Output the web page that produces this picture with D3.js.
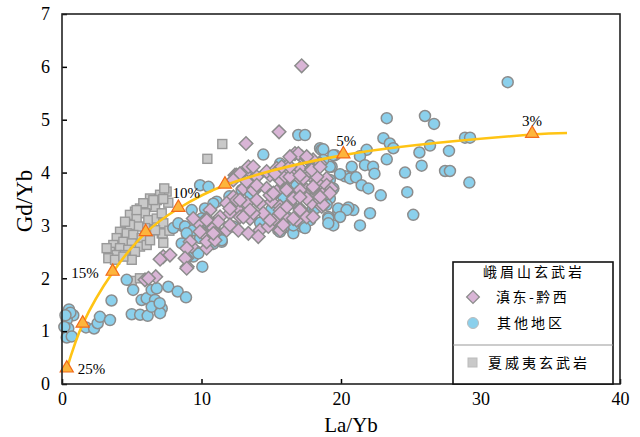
<!DOCTYPE html>
<html>
<head>
<meta charset="utf-8">
<script src="https://cdn.jsdelivr.net/npm/d3@7"></script>
<style>
  body { margin: 0; background: #fff; }
  #viz text { font-family: "Liberation Serif", "Times New Roman", serif; }
  #viz .cjk { font-family: "Noto Sans CJK SC", sans-serif; }
</style>
</head>
<body>
<div id="viz"></div>
<script>
// 夏威夷玄武岩 (La/Yb, Gd/Yb)
var hawaii = [
  [7.5,3.64],[7.03,3.58],[6.79,3.48],[6.31,3.51],[6.67,3.35],[6.07,3.39],[5.59,3.32],[5.95,3.23],[5.23,3.26],
  [4.87,3.2],[5.35,3.13],[6.19,3.1],[6.79,3.13],[7.15,3.23],[7.26,3.04],[7.15,2.85],[6.55,2.91],[5.95,2.95],
  [5.47,2.98],[4.87,3.01],[4.52,3.07],[4.16,2.88],[4.64,2.85],[5.11,2.82],[5.71,2.76],[3.92,2.76],[4.4,2.69],
  [5.0,2.66],[5.59,2.6],[3.68,2.63],[4.16,2.57],[4.75,2.54],[3.44,2.5],[3.92,2.44],[3.32,2.38],[3.2,2.57],
  [4.5,2.44],[5.23,2.5],[6.07,2.63],[6.31,2.72],[7.33,3.7],[7.62,3.43],[7.26,3.5],[6.55,3.48],[5.83,3.42],
  [5.35,3.29],[10.42,4.26],[11.49,4.54],[5.0,1.95],[5.59,2.0],[7.26,2.67],[7.22,2.85],[6.67,2.91],[3.8,2.35],
  [5.0,2.35],[4.4,2.41],[7.7,2.9]
];

// 峨眉山玄武岩 - 其他地区
var other = [
  [0.5,1.41],[0.81,1.30],[0.34,1.21],[0.45,1.05],[0.34,0.88],[0.7,0.9],[0.17,1.08],[0.6,1.35],[0.25,1.3],
  [1.72,1.07],[2.3,1.05],[2.56,1.15],[2.72,1.27],[3.44,1.21],[3.55,1.58],[4.64,1.97],[5.1,1.78],[5.0,1.32],
  [5.6,1.31],[6.14,1.29],[5.71,1.59],[6.07,1.62],[6.43,1.78],[6.79,1.81],[6.67,1.59],[6.43,1.46],[7.15,1.43],
  [7.03,1.34],[7.0,1.53],[7.62,1.84],[8.29,1.75],[8.89,1.64],[10.06,2.22],
  [7.98,2.95],[8.7,2.98],[9.0,2.82],[8.82,2.63],[8.58,2.66],[9.66,2.5],[9.41,2.41],[9.9,2.76],[10.85,2.65],
  [11.45,2.69],[10.37,2.91],[12.28,2.98],[15.5,2.91],[16.58,2.85],[17.18,2.98],
  [14.43,4.34],[16.94,4.71],[17.42,4.71],[18.5,4.46],[9.9,3.76],[10.5,3.73],[11.09,3.45],
  [31.95,5.71],[23.28,5.03],[26.02,5.07],[26.67,4.92],[23.04,4.65],[23.5,4.55],[23.75,4.46],[21.84,4.43],
  [21.36,4.31],[19.57,4.33],[18.6,4.43],[19.33,4.11],[20.77,4.11],[21.72,4.14],[22.3,4.11],[22.4,3.98],
  [23.28,4.25],[24.59,4.0],[25.78,4.13],[25.62,4.38],[26.38,4.51],[27.74,4.41],[27.46,4.03],[27.81,4.03],
  [28.89,4.66],[29.25,4.66],[29.2,3.81],[24.75,3.63],[22.85,3.57],[25.18,3.2],[20.29,3.93],[20.65,3.89],
  [21.08,3.91],[19.93,3.97],[21.48,3.76],[21.96,3.7],[22.08,3.23],[20.88,3.29],[20.53,3.34],[19.8,3.26],
  [19.09,3.16],[18.73,4.44],[19.45,4.33],
  [19.2,4.11],[18.73,4.24],[18.0,3.98],[19.2,3.86],[19.45,3.7],[19.2,3.51],[18.97,3.39],[18.0,3.32],
  [19.8,3.32],[20.4,3.29],[19.93,3.16],[19.09,3.13],[19.45,3.0],[17.78,3.1],[17.06,3.04],[16.58,3.0],
  [15.86,2.95],[21.36,3.0],[16.1,3.16],[15.63,4.17],
  [12.88,3.67],[10.25,3.32],[9.3,3.29],[8.34,3.04],[8.82,2.98],[10.0,3.13],[9.9,3.0],[9.41,2.91],
  [16.1,3.95],[15.86,3.54],
  [10.85,3.41],[15.63,2.88],[17.42,2.95],[19.09,3.04],[9.77,2.47],[8.94,2.85],[11.2,2.82],[11.45,2.72],
  [18.14,3.32],[13.5,3.6],[15.0,3.3],[12.0,3.55],[16.8,3.75],[14.2,3.05]
];

// 峨眉山玄武岩 - 滇东-黔西
var dianDong = [
  [17.18,6.02],[15.56,4.77],[13.19,4.55],[16.7,4.36],[17.18,4.3],
  [10.3,3.11],[10.13,2.85],[9.3,2.6],[8.94,2.38],[8.98,2.22],[7.26,2.41],[7.03,2.36],[7.74,2.44],
  [5.95,1.97],[6.72,2.03],[6.2,2.0],[10.37,2.57],[9.77,3.04],
  [12.4,3.95],[13.12,3.98],[13.96,3.92],[14.91,3.95],[15.63,3.86],[16.46,3.98],[17.06,3.89],[17.78,3.95],
  [18.5,3.8],[18.97,3.89],
  [13.0,3.7],[13.84,3.67],[14.67,3.7],[15.39,3.64],[16.1,3.7],[16.82,3.6],[17.54,3.67],[18.26,3.58],
  [18.97,3.67],[12.28,3.54],
  [11.8,3.42],[13.24,3.42],[14.19,3.42],[15.03,3.45],[15.63,3.36],[16.34,3.42],[17.06,3.32],[17.9,3.42],
  [18.62,3.36],[12.52,3.32],[10.61,3.29],
  [10.37,3.13],[11.33,3.16],[12.04,3.23],[12.76,3.16],[13.48,3.13],[14.43,3.23],[15.15,3.1],[15.99,3.16],
  [16.82,3.1],[17.54,3.16],[9.41,3.13],
  [9.89,2.88],[10.85,2.95],[11.8,2.91],[12.64,2.91],[13.36,2.85],[14.19,2.91],[14.79,2.98],[14.07,2.79],
  [11.0,2.85],[9.18,2.69],[10.37,2.69],[10.97,2.72],[8.94,2.57],[8.82,2.38],[8.94,2.19],
  [12.52,3.95],[13.36,4.11],[14.67,4.02],[15.39,4.08],[16.0,3.93],[13.72,3.67],[14.91,3.57],[15.63,3.29],
  [11.2,3.07],[10.37,3.1],[10.85,2.85],[12.04,3.01],[13.0,3.16],[13.72,3.23],[14.91,3.1],[15.63,2.91],
  [12.52,3.48],
  [16.94,4.36],[17.54,4.27],[18.0,4.24],[18.5,4.17],[16.1,4.11],[17.06,4.08],[17.9,4.08],[16.34,3.92],
  [17.3,3.89],[18.26,3.92],[18.97,3.76],[19.33,3.7],[18.0,3.7],[17.06,3.67],[16.1,3.67],[16.58,3.51],
  [17.54,3.51],[18.5,3.48],[18.73,3.39],[19.2,3.61],[16.1,3.35],[17.06,3.29],[18.0,3.16],[16.58,3.13],
  [15.63,3.23],[15.86,3.01],
  [13.71,4.11],[12.76,3.98],[12.28,3.86],[13.24,3.83],[13.96,3.76],[15.27,3.98],[15.75,4.11],[16.34,4.11],
  [17.06,3.95],[17.9,4.05],[18.5,4.11],[16.34,4.3],[17.54,4.3],[13.96,3.48],[15.15,3.61],[17.06,3.54],
  [18.0,3.73],[18.5,3.54],[12.76,3.48],[13.48,3.29],[12.04,3.32]
];

// 部分熔融曲线
var meltCurve = [[0.34,0.28],[1.48,1.13],[3.63,2.11],[6.0,2.86],[8.34,3.32],[11.68,3.76],[20.17,4.33],[33.7,4.72],[36.2,4.75]];
var meltMarks = [[0.34,0.28],[1.48,1.13],[3.63,2.11],[6.0,2.86],[8.34,3.32],[11.68,3.76],[20.17,4.33],[33.7,4.72]];
var meltLabels = [
  {t:"25%", x:0.34, y:0.28, dx:11, dy:5, a:"start"},
  {t:"15%", x:3.63, y:2.11, dx:-14, dy:6, a:"end"},
  {t:"10%", x:8.34, y:3.32, dx:8, dy:-11, a:"middle"},
  {t:"5%", x:20.17, y:4.33, dx:3, dy:-9, a:"middle"},
  {t:"3%", x:33.7, y:4.72, dx:0, dy:-9, a:"middle"}
];

var xTicks = [0,10,20,30,40];
var yTicks = [0,1,2,3,4,5,6,7];

var W = 640, H = 437;
var m = {top:14, right:20, bottom:53, left:62};

var svg = d3.select("#viz").append("svg")
    .attr("width", W)
    .attr("height", H);

var x = d3.scaleLinear().domain([0,40]).range([m.left, W-m.right]);
var y = d3.scaleLinear().domain([0,7]).range([H-m.bottom, m.top]);

var circleFill = "#8bd0ec", diamondFill = "#d9b5d6", squareFill = "#c9c9c9", mStroke = "#8c8c8c";

// hawaii squares
svg.selectAll("rect.hawaii")
    .data(hawaii)
    .enter()
    .append("rect")
    .attr("class","hawaii")
    .attr("x", function(d){ return x(d[0]) - 4.5; })
    .attr("y", function(d){ return y(d[1]) - 4.5; })
    .attr("width", 9)
    .attr("height", 9)
    .attr("fill", squareFill)
    .attr("stroke", "#999")
    .attr("stroke-width", 1.4);

svg.selectAll("circle.other")
    .data(other)
    .enter()
    .append("circle")
    .attr("class","other")
    .attr("cx", function(d){ return x(d[0]); })
    .attr("cy", function(d){ return y(d[1]); })
    .attr("r", 5.5)
    .attr("fill", circleFill)
    .attr("stroke", mStroke)
    .attr("stroke-width", 1.5);

svg.selectAll("rect.dian")
    .data(dianDong)
    .enter()
    .append("rect")
    .attr("class","dian")
    .attr("x", -4.8)
    .attr("y", -4.8)
    .attr("width", 9.6)
    .attr("height", 9.6)
    .attr("transform", function(d){ return "translate(" + x(d[0]) + "," + y(d[1]) + ") rotate(45)"; })
    .attr("fill", diamondFill)
    .attr("stroke", mStroke)
    .attr("stroke-width", 1.5);

// melting curve
var line = d3.line()
    .x(function(d){ return x(d[0]); })
    .y(function(d){ return y(d[1]); })
    .curve(d3.curveCatmullRom.alpha(0.5));

svg.append("path")
    .datum(meltCurve)
    .attr("d", line)
    .attr("fill", "none")
    .attr("stroke", "#ffc414")
    .attr("stroke-width", 2.6);

svg.selectAll("path.tri")
    .data(meltMarks)
    .enter()
    .append("path")
    .attr("class","tri")
    .attr("d", d3.symbol().type(d3.symbolTriangle).size(75))
    .attr("transform", function(d){ return "translate(" + x(d[0]) + "," + (y(d[1]) - 1) + ")"; })
    .attr("fill", "#fdb53c")
    .attr("stroke", "#f26a1b")
    .attr("stroke-width", 1.2);

svg.selectAll("text.pct")
    .data(meltLabels)
    .enter()
    .append("text")
    .attr("class","pct")
    .attr("x", function(d){ return x(d.x) + d.dx; })
    .attr("y", function(d){ return y(d.y) + d.dy; })
    .attr("text-anchor", function(d){ return d.a; })
    .style("font-size", "15px")
    .text(function(d){ return d.t; });

// axes
var gx = svg.append("g")
    .attr("transform", "translate(0," + (H-m.bottom) + ")")
    .call(d3.axisBottom(x).tickValues(xTicks).tickFormat(d3.format("d")).tickSize(-5).tickPadding(8));
var gy = svg.append("g")
    .attr("transform", "translate(" + m.left + ",0)")
    .call(d3.axisLeft(y).tickValues(yTicks).tickFormat(d3.format("d")).tickSize(-5).tickPadding(12));
gx.select(".domain").remove();
gy.select(".domain").remove();
svg.selectAll(".tick line").attr("stroke", "#000").attr("stroke-width", 1.5);
svg.selectAll(".tick text").style("font-size", "18px").attr("fill", "#000")
    .style("font-family", "'Liberation Serif', serif");

// frame
svg.append("rect")
    .attr("x", m.left)
    .attr("y", m.top)
    .attr("width", W - m.left - m.right)
    .attr("height", H - m.top - m.bottom)
    .attr("fill", "none")
    .attr("stroke", "#222")
    .attr("stroke-width", 1.6);

svg.append("text")
    .attr("x", 351)
    .attr("y", 432)
    .attr("text-anchor", "middle")
    .style("font-size", "21px")
    .text("La/Yb");

svg.append("text")
    .attr("transform", "translate(32,201) rotate(-90)")
    .attr("text-anchor", "middle")
    .style("font-size", "23px")
    .text("Gd/Yb");

// legend
var lg = svg.append("g");
lg.append("rect")
    .attr("x", 453).attr("y", 262)
    .attr("width", 160).attr("height", H - m.bottom - 262)
    .attr("fill", "#fff")
    .attr("stroke", "#111")
    .attr("stroke-width", 1.6);
lg.append("line")
    .attr("x1", 453).attr("x2", 613)
    .attr("y1", 345).attr("y2", 345)
    .attr("stroke", "#999")
    .attr("stroke-width", 1);

lg.append("text").attr("class","cjk")
    .attr("x", 534).attr("y", 277)
    .attr("text-anchor", "middle")
    .style("font-size", "14px")
    .style("letter-spacing", "3px")
    .text("峨眉山玄武岩");

lg.append("rect")
    .attr("x", -4.5).attr("y", -4.5).attr("width", 9).attr("height", 9)
    .attr("transform", "translate(473,297) rotate(45)")
    .attr("fill", diamondFill).attr("stroke", mStroke).attr("stroke-width", 1.3);
lg.append("text").attr("class","cjk")
    .attr("x", 496).attr("y", 302)
    .style("font-size", "14px")
    .style("letter-spacing", "2.5px")
    .text("滇东-黔西");

lg.append("circle")
    .attr("cx", 473).attr("cy", 323).attr("r", 5.5)
    .attr("fill", circleFill).attr("stroke", "#bbb").attr("stroke-width", 1);
lg.append("text").attr("class","cjk")
    .attr("x", 497).attr("y", 328)
    .style("font-size", "14px")
    .style("letter-spacing", "3px")
    .text("其他地区");

lg.append("rect")
    .attr("x", 468).attr("y", 358).attr("width", 9).attr("height", 9)
    .attr("fill", squareFill).attr("stroke", "#bbb").attr("stroke-width", 1);
lg.append("text").attr("class","cjk")
    .attr("x", 488).attr("y", 368)
    .style("font-size", "14px")
    .style("letter-spacing", "3px")
    .text("夏威夷玄武岩");
</script>
</body>
</html>
